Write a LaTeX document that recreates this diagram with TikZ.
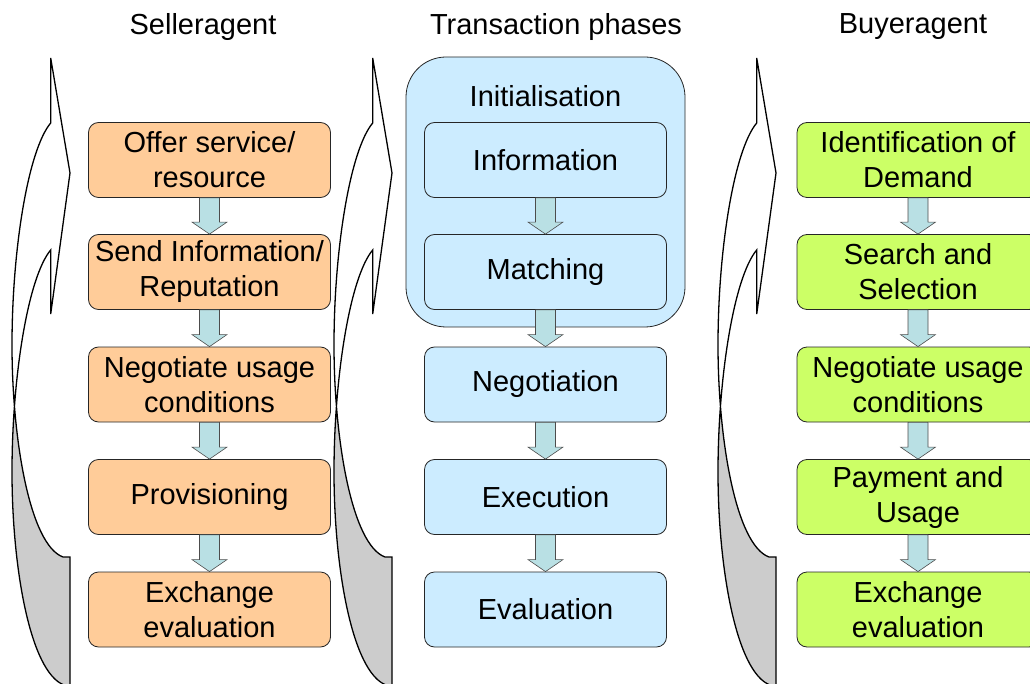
\documentclass[tikz,border=0pt]{standalone}
\usepackage{fontspec}
\setmainfont{Liberation Sans}
\usepackage{tikz}
\usetikzlibrary{calc}
\definecolor{sellerfill}{RGB}{255,204,153}
\definecolor{phasefill}{RGB}{204,236,255}
\definecolor{buyerfill}{RGB}{204,255,102}
\definecolor{arrowfill}{RGB}{185,224,228}
\definecolor{backfill}{RGB}{204,204,204}
\def\bandpath{(50.7,123) .. controls (28,150) and (12,250) .. (12,345) .. controls (12,440) and (30,545) .. (63,557) -- (70,557) -- (70,685) -- (64,685) .. controls (30,672) and (12,567) .. (12,472) .. controls (12,377) and (28,277) .. (50.7,250) -- (50.7,314) -- (70,173) -- (50.7,58) -- cycle}
\def\bandarrow(#1){\begin{scope}[shift={(#1,0)}]
				\fill[white] \bandpath;
				\begin{scope}
					\clip (0,401) rectangle (80,700);
					\fill[backfill] \bandpath;
				\end{scope}
				\draw[line width=1.3pt, line join=miter] \bandpath;
			\end{scope}}
\def\phasearrow(#1)(#2){\draw[blockarrow] ($(#1.south)+(-10,0)$) -- ($(#2.north)+(-10,-12)$) -- ($(#2.north)+(-17.5,-12)$) -- (#2.north) -- ($(#2.north)+(17.5,-12)$) -- ($(#2.north)+(10,-12)$) -- ($(#1.south)+(10,0)$) -- cycle;}

\begin{document}
\begin{tikzpicture}[x=1pt, y=-1pt,
		box/.style={draw=black!85, line width=0.8pt, rounded corners=10pt, minimum width=242pt, minimum height=75pt, inner sep=0pt, align=center, font=\fontsize{29}{35}\selectfont},
		seller/.style={box, fill=sellerfill},
		phase/.style={box, fill=phasefill},
		buyer/.style={box, fill=buyerfill},
		title/.style={font=\fontsize{29}{35}\selectfont},
		blockarrow/.style={fill=arrowfill, draw=black!70, line width=0.6pt, line join=miter}]
				\useasboundingbox (0,0) rectangle (1030,684);
				
				\node[title] (sellertitle) at (203,27) {Selleragent};
				\node[title] (phasetitle) at (556,27) {Transaction phases};
				\node[title] (buyertitle) at (913,27) {Buyeragent};
				
				\bandarrow(0)
				\bandarrow(322)
				\bandarrow(706)
				
				\node[seller] (offer) at (209.5,160) {Offer service/\\resource};
				\node[seller] (sendinfo) at (209.5,272) {Send Information/\\Reputation};
				\node[seller] (snego) at (209.5,384.5) {Negotiate usage\\conditions};
				\node[seller] (provision) at (209.5,497) {Provisioning};
				\node[seller] (sexchange) at (209.5,609.5) {Exchange\\evaluation};
				
				\node[draw=black!85, line width=0.8pt, rounded corners=40pt, fill=phasefill, minimum width=279pt, minimum height=270pt] (init) at (545.5,192) {};
				\node[title] (inittitle) at (545.5,96) {Initialisation};
				\node[phase] (info) at (545.5,160) {Information};
				\node[phase] (match) at (545.5,272) {Matching};
				\node[phase] (nego) at (545.5,384.5) {Negotiation};
				\node[phase] (exec) at (545.5,497) {Execution};
				\node[phase] (eval) at (545.5,609.5) {Evaluation};
				
				\node[buyer] (demand) at (918,160) {Identification of\\Demand};
				\node[buyer] (search) at (918,272) {Search and\\Selection};
				\node[buyer] (bnego) at (918,384.5) {Negotiate usage\\conditions};
				\node[buyer] (payment) at (918,497) {Payment and\\Usage};
				\node[buyer] (bexchange) at (918,609.5) {Exchange\\evaluation};
				
				\phasearrow(offer)(sendinfo)
				\phasearrow(sendinfo)(snego)
				\phasearrow(snego)(provision)
				\phasearrow(provision)(sexchange)
				
				\phasearrow(info)(match)
				\phasearrow(match)(nego)
				\phasearrow(nego)(exec)
				\phasearrow(exec)(eval)
				
				\phasearrow(demand)(search)
				\phasearrow(search)(bnego)
				\phasearrow(bnego)(payment)
				\phasearrow(payment)(bexchange)
			\end{tikzpicture}
\end{document}
